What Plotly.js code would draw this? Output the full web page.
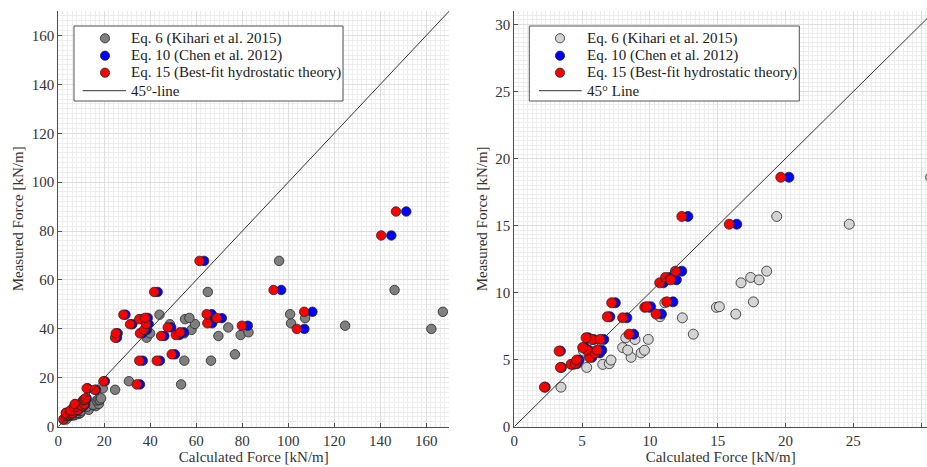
<!DOCTYPE html>
<html>
<head>
<meta charset="utf-8">
<script src="https://cdn.plot.ly/plotly-3.0.1.min.js"></script>
<style>html,body{margin:0;padding:0;background:#fff;}#chart{width:927px;height:467px;}</style>
</head>
<body>
<div id="chart"></div>
<script>
// Measured force [kN/m] and calculated force [kN/m] by each equation (same tests in both panels)
const measured = [2.95, 4.42, 4.65, 4.70, 4.97, 5.17, 5.50, 5.64, 5.70, 5.90, 5.71, 6.50, 6.51, 6.63, 6.90,
  8.12, 8.20, 8.40, 8.90, 8.95, 9.24, 9.31, 10.73, 11.13, 10.95, 11.60, 15.68, 15.10, 18.60,
  17.3, 27.0, 27.0, 29.6, 36.4, 37.1, 37.5, 38.2, 38.2, 38.6, 39.6, 40.0, 40.6, 41.3, 41.9, 42.0, 42.3,
  44.0, 44.4, 44.5, 45.8, 46.0, 47.0, 55.1, 55.9, 67.8, 78.2, 88.0];
const eq15 = [2.22, 3.40, 4.18, 4.50, 4.60, 5.55, 5.95, 3.30, 5.35, 5.04, 6.10, 5.71, 6.32, 5.29, 8.46,
  7.99, 6.86, 10.45, 9.62, 9.75, 7.18, 11.24, 10.72, 11.15, 11.53, 11.88, 12.35, 15.85, 19.65,
  34.1, 35.2, 42.8, 49.3, 24.7, 44.7, 51.1, 35.5, 25.0, 52.9, 37.3, 103.7, 47.6, 79.8, 31.2, 38.1, 64.8,
  35.2, 68.9, 37.7, 28.3, 64.5, 106.9, 41.7, 93.6, 61.4, 140.4, 146.8];
const eq10 = [2.28, 3.48, 4.35, 4.62, 4.78, 5.72, 6.30, 3.40, 5.50, 5.20, 6.45, 5.85, 6.60, 5.45, 8.80,
  8.30, 7.05, 10.85, 9.95, 10.05, 7.45, 11.70, 11.00, 11.45, 11.95, 12.35, 12.80, 16.40, 20.25,
  35.5, 36.7, 44.2, 50.7, 25.5, 46.1, 52.7, 36.6, 25.8, 54.6, 38.5, 107.0, 49.1, 82.4, 32.2, 39.3, 66.9,
  36.3, 71.1, 38.9, 29.2, 66.7, 110.5, 43.2, 96.9, 63.4, 144.8, 151.3];
const eq6 = [3.44, 5.34, 6.52, 7.00, 7.13, 8.61, 9.35, 5.10, 9.60, 7.99, 8.36, 8.90, 9.88, 8.22, 13.20,
  12.39, 10.74, 16.33, 14.90, 15.12, 11.10, 17.63, 16.72, 17.43, 18.05, 18.61, 19.35, 24.70, 30.70,
  53.4, 54.8, 66.4, 76.8, 38.4, 69.6, 79.3, 54.7, 39.9, 82.7, 57.9, 162.2, 73.9, 124.7, 48.5, 59.4, 101.2,
  55.1, 107.3, 57.0, 44.0, 100.8, 167.2, 65.0, 146.2, 96.0, null, null];

const lineLeft = [0, 170];
const lineRight = [0, 31];
const leftTicks = [0, 20, 40, 60, 80, 100, 120, 140, 160];
const rightTicks = [0, 5, 10, 15, 20, 25, 30];

const seriesNames = ['Eq. 6 (Kihari et al. 2015)', 'Eq. 10 (Chen et al. 2012)', 'Eq. 15 (Best-fit hydrostatic theory)'];
const lineNameLeft = '45°-line';
const lineNameRight = '45° Line';

const W = 927, H = 467;
const FONT = '"Liberation Serif", "Times New Roman", serif';
const outline = {color: '#262626', width: 0.8};
const colorsLeft = ['#7f7f7f', '#0000ff', '#ff0000'];
const colorsRight = ['#d4d4d4', '#0000ff', '#ff0000'];
const xSeries = [eq6, eq10, eq15];

const traces = [];
function addPanel(colors, size, xa, ya, diag, lineName) {
  xSeries.forEach((xs, i) => traces.push({
    x: xs, y: measured, type: 'scatter', mode: 'markers', name: seriesNames[i], showlegend: false,
    marker: {color: colors[i], size: size, line: outline}, xaxis: xa, yaxis: ya
  }));
  traces.push({x: diag, y: diag, type: 'scatter', mode: 'lines', name: lineName, showlegend: false,
    line: {color: '#333333', width: 1}, xaxis: xa, yaxis: ya});
}
addPanel(colorsLeft, 9.5, 'x', 'y', lineLeft, lineNameLeft);
addPanel(colorsRight, 10, 'x2', 'y2', lineRight, lineNameRight);

function axis(domain, range, ticks, minorDt, title, anchor, standoff) {
  return {
    domain: domain, range: range, anchor: anchor,
    tickmode: 'array', tickvals: ticks, ticktext: ticks.map(String),
    showgrid: true, gridcolor: '#dedede', gridwidth: 1,
    minor: {dtick: minorDt, tick0: 0, showgrid: true, gridcolor: '#ededed', gridwidth: 1, ticks: ''},
    zeroline: false, showline: true, linecolor: '#4d4d4d', linewidth: 1,
    ticks: 'inside', ticklen: 4, tickcolor: '#4d4d4d',
    tickfont: {family: FONT, size: 15, color: '#333333'},
    title: {text: title, font: {family: FONT, size: 15, color: '#333333'}, standoff: standoff},
    automargin: false, fixedrange: true
  };
}

// Manual legend boxes (pixel geometry converted to paper coordinates)
const px = v => v / W, py = v => 1 - v / H;
const shapes = [], annotations = [];
function legendBox(left, right, markX, lineX0, lineX1, textX, colors, lineName) {
  shapes.push({type: 'rect', xref: 'paper', yref: 'paper', x0: px(left), x1: px(right), y0: py(101), y1: py(26),
    line: {color: '#555555', width: 1}, fillcolor: '#ffffff', layer: 'above'});
  const rows = [38.3, 55.7, 72.7, 90.7];
  const r = 4.6;
  colors.forEach((c, i) => {
    shapes.push({type: 'circle', xref: 'paper', yref: 'paper',
      x0: px(markX - r), x1: px(markX + r), y0: py(rows[i] + r), y1: py(rows[i] - r),
      fillcolor: c, line: {color: '#262626', width: 0.8}, layer: 'above'});
  });
  shapes.push({type: 'line', xref: 'paper', yref: 'paper', x0: px(lineX0), x1: px(lineX1), y0: py(rows[3]), y1: py(rows[3]),
    line: {color: '#333333', width: 1}, layer: 'above'});
  seriesNames.concat([lineName]).forEach((t, i) => annotations.push({
    text: t, xref: 'paper', yref: 'paper', x: px(textX), y: py(rows[i]), xanchor: 'left', yanchor: 'middle',
    showarrow: false, font: {family: FONT, size: 15, color: '#1a1a1a'}
  }));
}
legendBox(74, 343, 105, 82.7, 126, 129, colorsLeft, lineNameLeft);
legendBox(529.3, 799.3, 560, 539, 581.7, 585, colorsRight, lineNameRight);

const yDom = [(H - 426.7) / H, (H - 11) / H];
const layout = {
  width: W, height: H,
  margin: {l: 0, r: 0, t: 0, b: 0},
  paper_bgcolor: '#ffffff', plot_bgcolor: '#ffffff',
  showlegend: false,
  xaxis: axis([58.3 / W, 449.3 / W], [0, 170], leftTicks, 2, 'Calculated Force [kN/m]', 'y', 2),
  yaxis: axis(yDom, [0, 170], leftTicks, 2, 'Measured Force [kN/m]', 'x', 4),
  xaxis2: axis([514.3 / W, 1], [0, 30.43], rightTicks, 1 / 3, 'Calculated Force [kN/m]', 'y2', 2),
  yaxis2: axis(yDom, [0, 31], rightTicks, 1 / 3, 'Measured Force [kN/m]', 'x2', 4),
  shapes: shapes,
  annotations: annotations
};

Plotly.newPlot('chart', traces, layout, {staticPlot: true, displayModeBar: false});
</script>
</body>
</html>
